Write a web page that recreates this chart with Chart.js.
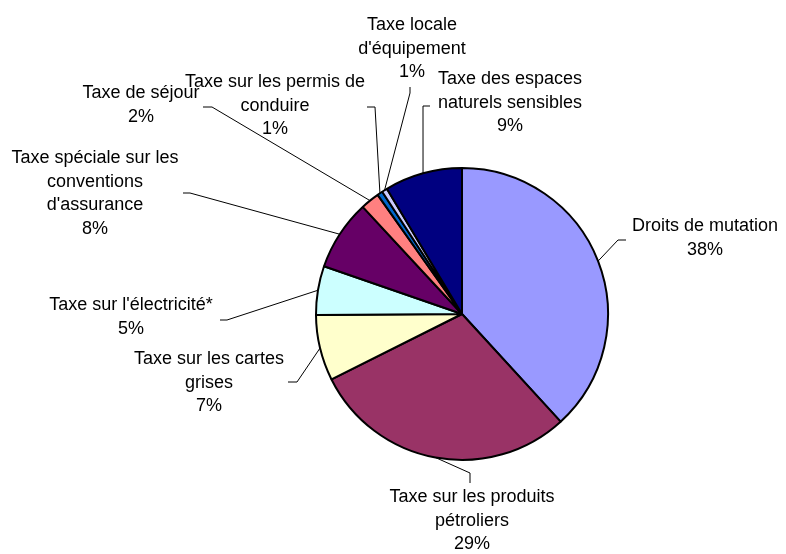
<!DOCTYPE html>
<html>
<head>
<meta charset="utf-8">
<script src="https://cdn.jsdelivr.net/npm/chart.js@4/dist/chart.umd.min.js"></script>
<style>
html,body{margin:0;padding:0;background:#fff;}
#wrap{width:786px;height:554px;position:relative;}
</style>
</head>
<body>
<div id="wrap"><canvas id="c" width="786" height="554"></canvas></div>
<script>
// Data
const categories = [
  "Droits de mutation",
  "Taxe sur les produits pétroliers",
  "Taxe sur les cartes grises",
  "Taxe sur l'électricité*",
  "Taxe spéciale sur les conventions d'assurance",
  "Taxe de séjour",
  "Taxe sur les permis de conduire",
  "Taxe locale d'équipement",
  "Taxe des espaces naturels sensibles"
];
const values = [38.2, 29.4, 7.3, 5.4, 7.8, 2.1, 0.6, 0.6, 8.6];
const percentLabels = ["38%", "29%", "7%", "5%", "8%", "2%", "1%", "1%", "9%"];
const labelLines = [
  ["Droits de mutation"],
  ["Taxe sur les produits", "pétroliers"],
  ["Taxe sur les cartes", "grises"],
  ["Taxe sur l'électricité*"],
  ["Taxe spéciale sur les", "conventions", "d'assurance"],
  ["Taxe de séjour"],
  ["Taxe sur les permis de", "conduire"],
  ["Taxe locale", "d'équipement"],
  ["Taxe des espaces", "naturels sensibles"]
];

// Styles / layout
const colors = ["#9999FF", "#993366", "#FFFFCC", "#CCFFFF", "#660066", "#FF8080", "#0066CC", "#CCCCFF", "#000080"];
const labelLayout = [
  {x: 705, y: 226, path: [[618,240],[626,240]]},
  {x: 472, y: 497, path: [[470,473],[470,483]]},
  {x: 209, y: 359, path: [[297,382],[288,382]]},
  {x: 131, y: 305, path: [[227,320],[220,320]]},
  {x: 95,  y: 158, path: [[190,193],[183,193]]},
  {x: 141, y: 93,  path: [[212,107],[203,107]]},
  {x: 275, y: 82,  path: [[375,107],[367,107]]},
  {x: 412, y: 25,  path: [[410,93],[410,87]]},
  {x: 510, y: 79,  path: [[423,106],[430,106]]}
];
const LINE_H = 23.7;
const FONT = '18px "Liberation Sans", Arial, sans-serif';

const labelPlugin = {
  id: 'pieLabels',
  afterDraw(chart) {
    const ctx = chart.ctx;
    const meta = chart.getDatasetMeta(0);
    ctx.save();
    meta.data.forEach((arc, i) => {
      const p = arc.getProps(['x','y','startAngle','endAngle','outerRadius'], true);
      const mid = (p.startAngle + p.endAngle) / 2;
      const sx = p.x + Math.cos(mid) * p.outerRadius;
      const sy = p.y + Math.sin(mid) * p.outerRadius;
      const L = labelLayout[i];
      ctx.strokeStyle = '#000';
      ctx.lineWidth = 1;
      ctx.beginPath();
      ctx.moveTo(sx, sy);
      L.path.forEach(pt => ctx.lineTo(pt[0], pt[1]));
      ctx.stroke();
      ctx.fillStyle = '#000';
      ctx.font = FONT;
      ctx.textAlign = 'center';
      ctx.textBaseline = 'middle';
      const lines = labelLines[i].concat([percentLabels[i]]);
      lines.forEach((t, k) => ctx.fillText(t, L.x, L.y + k * LINE_H));
    });
    ctx.restore();
  }
};

new Chart(document.getElementById('c'), {
  type: 'pie',
  data: {
    labels: categories,
    datasets: [{
      data: values,
      backgroundColor: colors,
      borderColor: '#000',
      borderWidth: 2,
      hoverOffset: 0
    }]
  },
  options: {
    responsive: false,
    animation: false,
    radius: 146,
    layout: {padding: {left: 138, right: 0, top: 74, bottom: 0}},
    plugins: {legend: {display: false}, tooltip: {enabled: false}, title: {display: false}}
  },
  plugins: [labelPlugin]
});
</script>
</body>
</html>
